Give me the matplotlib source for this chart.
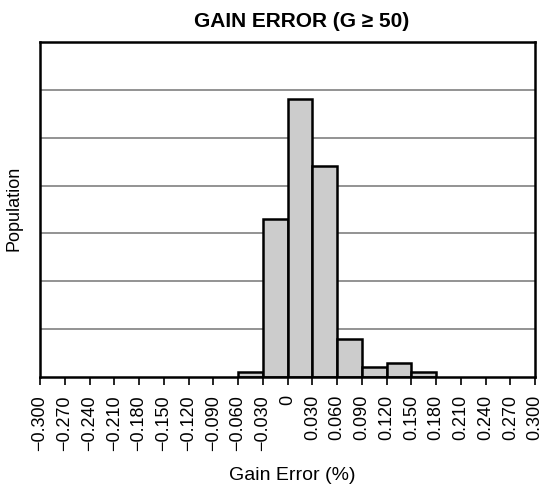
"""Gain error histogram (G >= 50)."""

import matplotlib
matplotlib.use("Agg")
import matplotlib.pyplot as plt
import numpy as np

# ── Data ──
bin_edges = [-0.060, -0.030, 0.000, 0.030, 0.060, 0.090, 0.120, 0.150, 0.180]
population = [1, 33, 58, 44, 8, 2, 3, 1]

tick_vals = np.round(np.arange(-0.300, 0.301, 0.030), 3)
tick_labels = ["0" if v == 0 else f"{v:.3f}".replace("-", "\u2212") for v in tick_vals]

plt.rcParams.update({
    "font.family": ["Liberation Sans", "DejaVu Sans"],
    "font.size": 12,
})

fig = plt.figure(figsize=(5.43, 4.91), dpi=100)
ax = fig.add_axes([0.0737, 0.2322, 0.9116, 0.6823])

widths = np.diff(bin_edges)
ax.bar(bin_edges[:-1], population, width=widths, align="edge",
       color="#cccccc", edgecolor="black", linewidth=1.8, zorder=3)

ax.set_xlim(-0.300, 0.300)
ax.set_ylim(0, 70)
ax.set_xticks(tick_vals)
ax.set_xticklabels(tick_labels, rotation=90, fontsize=13)
ax.tick_params(axis="x", direction="out", length=6, width=1.2, pad=7)
ax.set_yticks(np.arange(10, 70, 10))
ax.tick_params(axis="y", length=0, labelleft=False)
ax.grid(axis="y", color="#808080", linewidth=1.2, zorder=0)

for s in ax.spines.values():
    s.set_linewidth(1.8)
    s.set_zorder(4)

fig.text(0.556, 0.956, "GAIN ERROR (G \u2265 50)", ha="center", va="center",
         fontsize=15, fontweight="bold")
fig.text(0.539, 0.032, "Gain Error (%)", ha="center", va="center", fontsize=14)
fig.text(0.026, 0.576, "Population", ha="center", va="center", rotation=90, fontsize=13)

fig.savefig("out.png", dpi=100)
